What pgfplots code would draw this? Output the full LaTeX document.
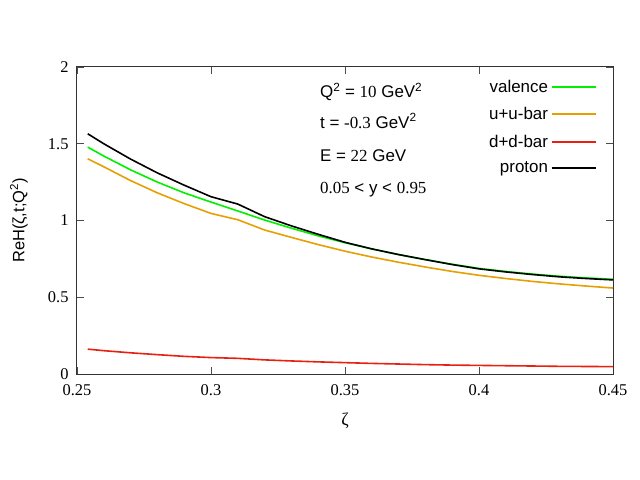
\documentclass[border=0pt]{standalone}
\usepackage{fontspec}
\setmainfont{Liberation Sans}
\newfontfamily\tm{Liberation Serif}
\usepackage{pgfplots}
\pgfplotsset{compat=1.18}
\definecolor{cgreen}{HTML}{00F000}
\definecolor{corange}{HTML}{E69F00}
\definecolor{cred}{HTML}{E8200F}
\begin{document}
\begin{tikzpicture}
\begin{axis}[
  name=ax,
  scale only axis,
  width=536bp, height=307bp,
  xmin=0.25, xmax=0.45, ymin=0, ymax=2,
  xtick={0.25,0.3,0.35,0.4,0.45},
  xticklabels={0.25,0.3,0.35,0.4,0.45},
  ytick={0,0.5,1,1.5,2},
  yticklabels={0,0.5,1,1.5,2},
  tick align=inside,
  major tick length=7bp,
  minor tick num=0,
  axis line style={black!80, line width=1bp},
  every tick/.style={black!70, line width=0.8bp},
  tick label style={font=\fontsize{16.5}{18}\selectfont\tm},
  yticklabel style={xshift=-5bp},
  xticklabel style={yshift=-7bp},
  xlabel={\tm ζ},
  ylabel={ReH(ζ,t;Q\textsuperscript{2})},
  every axis x label/.style={at={(rel axis cs:0.5,0)}, anchor=center, yshift=-47bp, font=\fontsize{18}{20}\selectfont},
  every axis y label/.style={at={(rel axis cs:0,0.5)}, anchor=center, rotate=90, yshift=58bp, font=\fontsize{16.5}{19}\selectfont},
  legend style={at={(rel axis cs:1,1)}, anchor=north east, xshift=-16bp, yshift=-10bp,
    draw=none, fill=none, font=\fontsize{17}{18}\selectfont, row sep=7.5bp,
    inner sep=0pt, nodes={inner sep=3bp}},
  legend cell align=right,
  legend plot pos=right,
  legend image code/.code={\draw[#1, line width=1.8bp] (0bp,0bp) -- (44bp,0bp);},
  every axis plot/.append style={line width=1.6bp},
  clip=true,
]
\addplot[cgreen] coordinates {
(0.254,1.478) (0.26,1.42) (0.27,1.33) (0.28,1.25) (0.29,1.18) (0.30,1.12)
(0.31,1.062) (0.32,1.003) (0.33,0.95) (0.34,0.90) (0.35,0.855) (0.36,0.815)
(0.37,0.778) (0.38,0.745) (0.39,0.715) (0.40,0.688) (0.41,0.668) (0.42,0.651)
(0.43,0.637) (0.44,0.626) (0.45,0.617)};
\addlegendentry{valence}
\addplot[corange] coordinates {
(0.254,1.402) (0.26,1.35) (0.27,1.26) (0.28,1.18) (0.29,1.11) (0.30,1.046)
(0.31,1.005) (0.32,0.938) (0.33,0.89) (0.34,0.843) (0.35,0.80) (0.36,0.762)
(0.37,0.728) (0.38,0.697) (0.39,0.668) (0.40,0.643) (0.41,0.622) (0.42,0.603)
(0.43,0.587) (0.44,0.573) (0.45,0.560)};
\addlegendentry{u+u-bar}
\addplot[cred] coordinates {
(0.254,0.162) (0.26,0.152) (0.27,0.138) (0.28,0.126) (0.29,0.115) (0.30,0.107)
(0.31,0.102) (0.32,0.092) (0.33,0.085) (0.34,0.079) (0.35,0.074) (0.36,0.069)
(0.37,0.065) (0.38,0.061) (0.39,0.058) (0.40,0.056) (0.41,0.054) (0.42,0.052)
(0.43,0.050) (0.44,0.049) (0.45,0.048)};
\addlegendentry{d+d-bar}
\addplot[black] coordinates {
(0.254,1.565) (0.26,1.50) (0.27,1.40) (0.28,1.31) (0.29,1.23) (0.30,1.155)
(0.31,1.107) (0.32,1.025) (0.33,0.965) (0.34,0.91) (0.35,0.858) (0.36,0.815)
(0.37,0.778) (0.38,0.745) (0.39,0.713) (0.40,0.685) (0.41,0.665) (0.42,0.648)
(0.43,0.633) (0.44,0.622) (0.45,0.613)};
\addlegendentry{proton}
\node[anchor=base west, font=\fontsize{17}{18}\selectfont] at (rel axis cs:0.447,0.901) {Q\textsuperscript{2} = {\tm 10} GeV\textsuperscript{2}};
\node[anchor=base west, font=\fontsize{17}{18}\selectfont] at (rel axis cs:0.447,0.801) {t = {\tm -0.3} GeV\textsuperscript{2}};
\node[anchor=base west, font=\fontsize{17}{18}\selectfont] at (rel axis cs:0.447,0.692) {E = {\tm 22} GeV};
\node[anchor=base west, font=\fontsize{17}{18}\selectfont] at (rel axis cs:0.447,0.589) {{\tm 0.05} < y < {\tm 0.95}};
\end{axis}
\path (ax.south west) ++(-77bp,-106bp) rectangle ++(640bp,480bp);
\end{tikzpicture}
\end{document}
